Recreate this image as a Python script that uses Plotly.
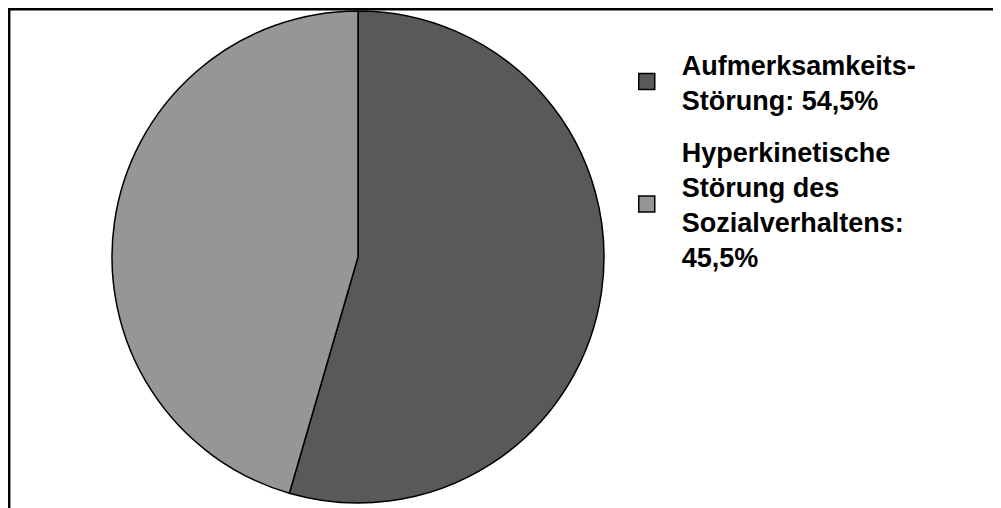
import plotly.graph_objects as go

labels = ["Aufmerksamkeits-<br>Störung: 54,5%",
          "Hyperkinetische<br>Störung des<br>Sozialverhaltens:<br>45,5%"]
values = [54.5, 45.5]
colors = ["#595959", "#969696"]

W, H = 993, 500  # page body has an 8px margin
cx, cy, r = 350, 251, 246  # pie centre (from left, from bottom) and radius, in px

fig = go.Figure()
fig.add_trace(go.Pie(
    labels=labels, values=values, sort=False, direction="clockwise", rotation=0,
    marker=dict(colors=colors, line=dict(color="black", width=1.5)),
    textinfo="none", hoverinfo="label+percent", showlegend=False,
    domain=dict(x=[(cx - r) / W, (cx + r) / W], y=[(cy - r) / H, (cy + r) / H]),
))
for i, (lab, col) in enumerate(zip(labels, colors)):
    fig.add_trace(go.Scatter(
        x=[None], y=[None], mode="markers", name=lab, legendgroup=f"g{i}",
        marker=dict(symbol="square", size=16, color=col, line=dict(color="black", width=1.5)),
    ))

fig.update_layout(
    width=W, height=H,
    margin=dict(l=0, r=0, t=0, b=0),
    paper_bgcolor="white", plot_bgcolor="white",
    xaxis=dict(visible=False), yaxis=dict(visible=False),
    showlegend=True,
    legend=dict(x=0.608, y=0.936, xanchor="left", yanchor="top",
                font=dict(family="Liberation Sans, Arial, sans-serif", size=27, color="black", weight="bold"),
                tracegroupgap=14, itemwidth=60, valign="middle", bgcolor="rgba(0,0,0,0)"),
    shapes=[dict(type="rect", xref="paper", yref="paper",
                 x0=1.2 / W, x1=1.05, y0=-0.05, y1=1 - 1.2 / H,
                 line=dict(color="black", width=2.5))],
)
fig.write_html("out.html")
